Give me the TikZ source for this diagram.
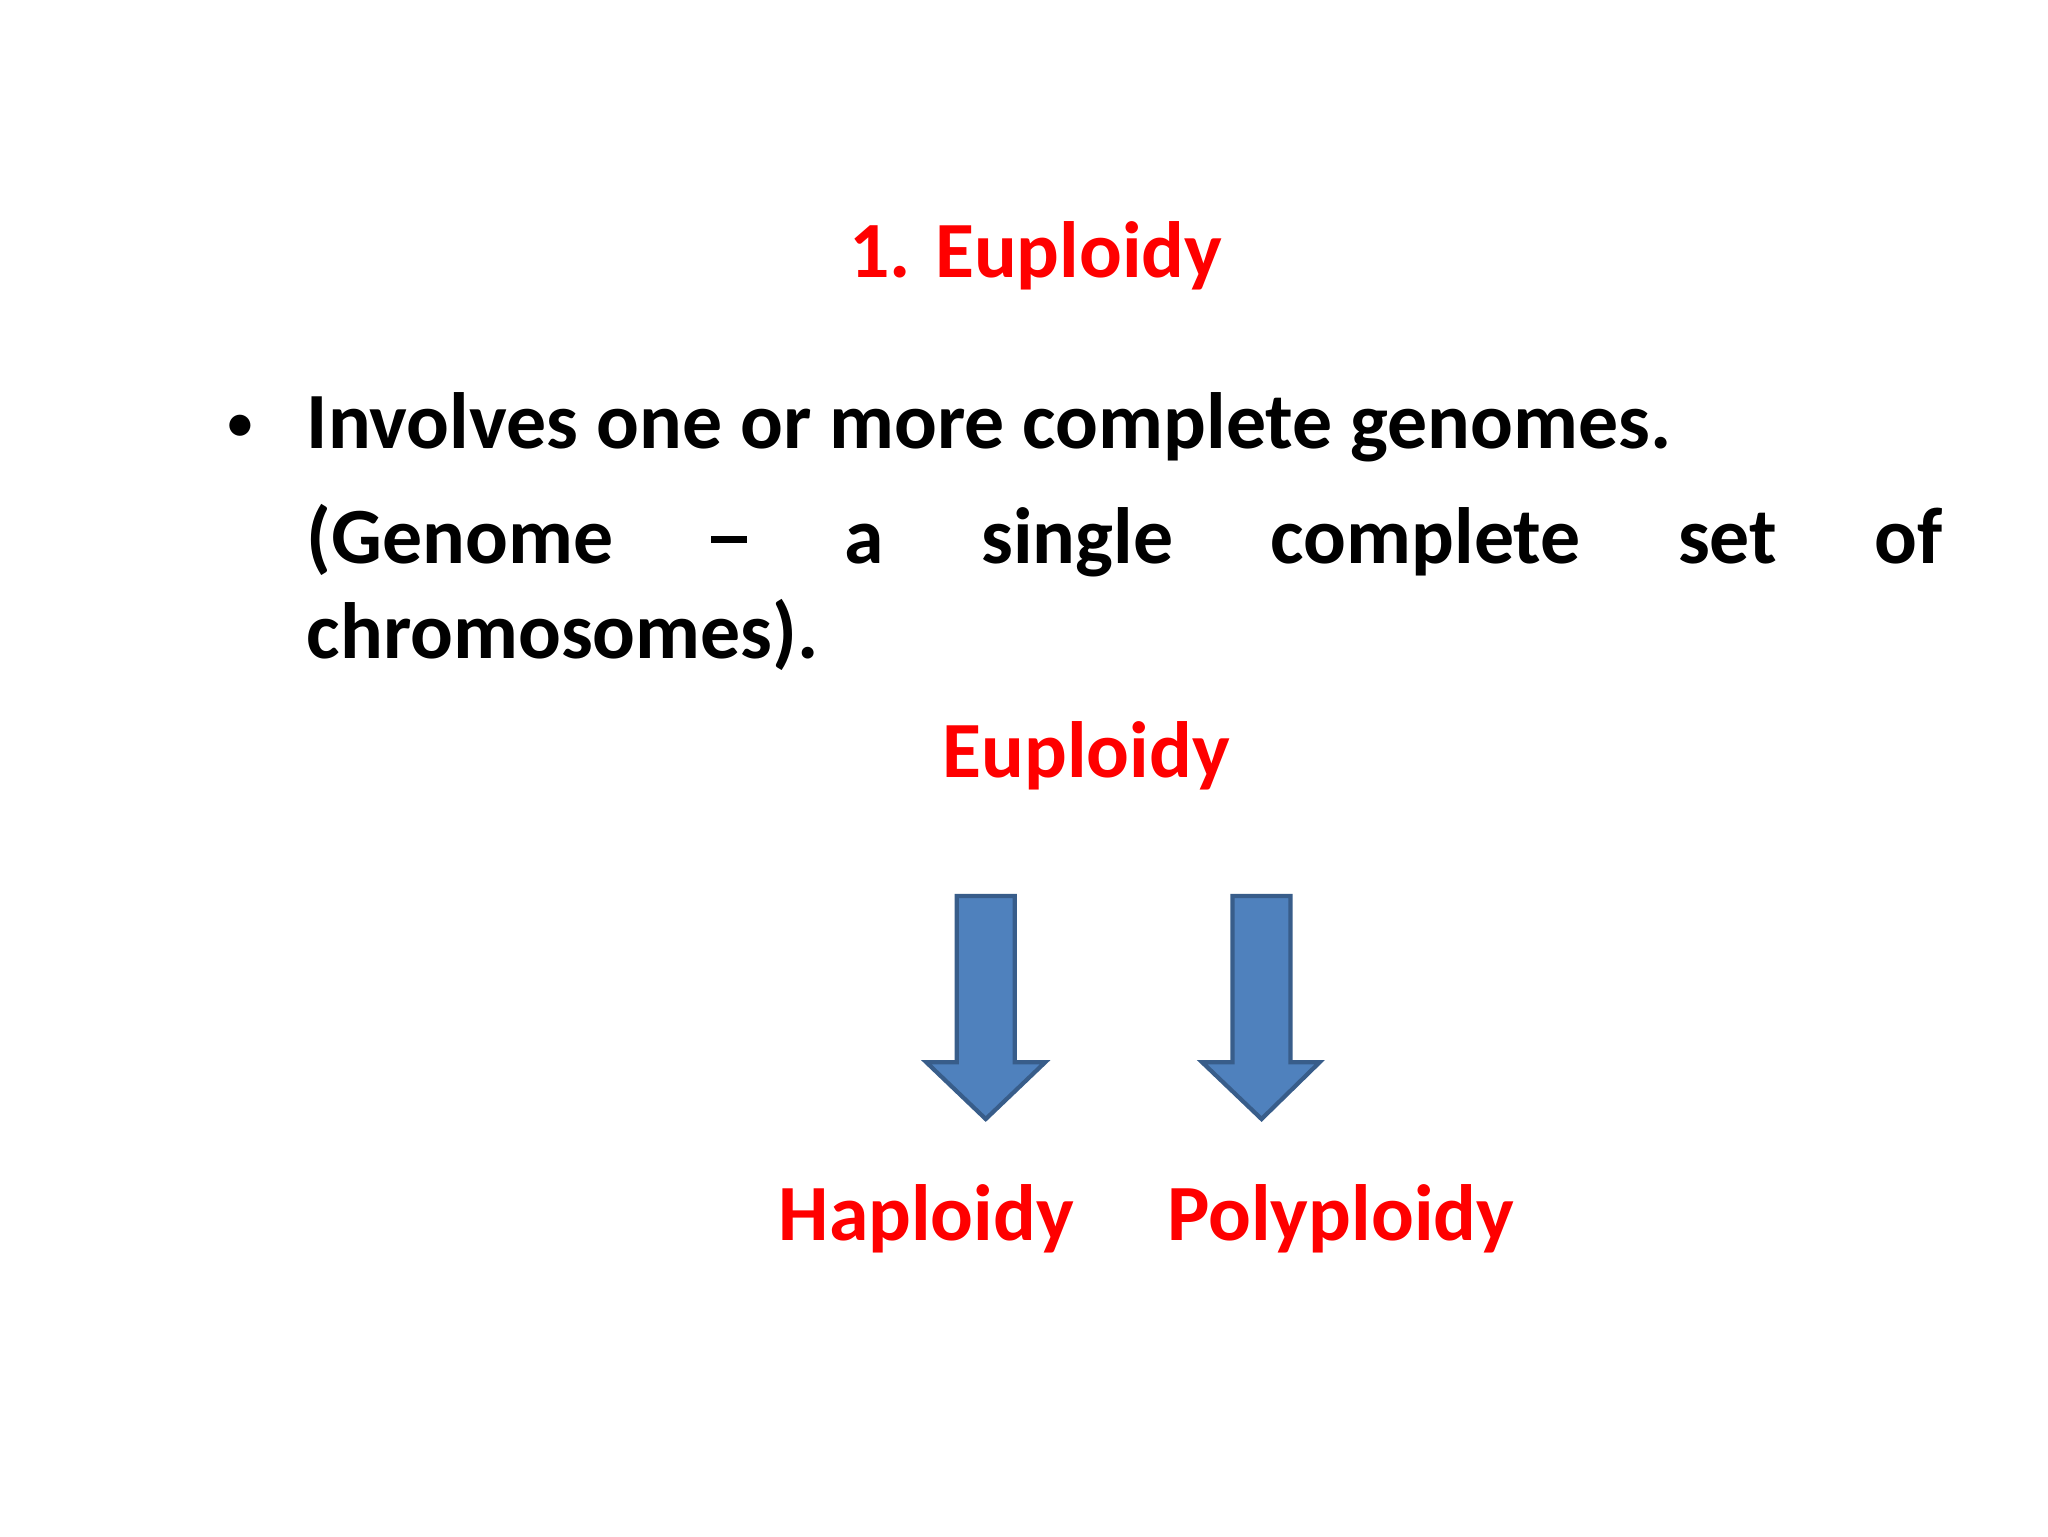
\documentclass[tikz,border=0pt]{standalone}
\usepackage{fontspec}
\setmainfont{Carlito}
\definecolor{redt}{HTML}{FF0000}
\definecolor{arrfill}{HTML}{4F81BD}
\definecolor{arrline}{HTML}{385D8A}
\begin{document}
\begin{tikzpicture}[x=0.013196cm,y=-0.013196cm,
  txt/.style={inner sep=0pt,font=\fontsize{22.7pt}{27pt}\selectfont\bfseries},
  red/.style={txt,text=redt},
  arr/.style={fill=arrfill,draw=arrline,line width=1.2pt,line join=miter}]
\useasboundingbox (0,0) rectangle (1552,1164);
\node[red,anchor=base] (t) at (785,210) {1. Euploidy};
\node[txt,anchor=base,font=\fontsize{17pt}{20pt}\selectfont] (b) at (182,335) {•};
\node[txt,anchor=base west] (l1) at (232,340) {Involves one or more complete genomes.};
\node[txt,anchor=base west] (l2) at (232,427) {\makebox[16.363cm][s]{(Genome \ \rule[0.26em]{0.45em}{0.08em} \ a \ single \ complete \ set \ of}};
\node[txt,anchor=base west] (l3) at (232,499) {chromosomes).};
\node[red,anchor=base] (e) at (823,589) {Euploidy};
\draw[arr] (725,679) -- (769,679) -- (769,805) -- (792,805) -- (747,848) -- (702,805) -- (725,805) -- cycle;
\draw[arr] (934,679) -- (978,679) -- (978,805) -- (1000,805) -- (956,848) -- (911,805) -- (934,805) -- cycle;
\node[red,anchor=base] (h) at (702,940) {Haploidy};
\node[red,anchor=base] (p) at (1016,940) {Polyploidy};
\end{tikzpicture}
\end{document}
